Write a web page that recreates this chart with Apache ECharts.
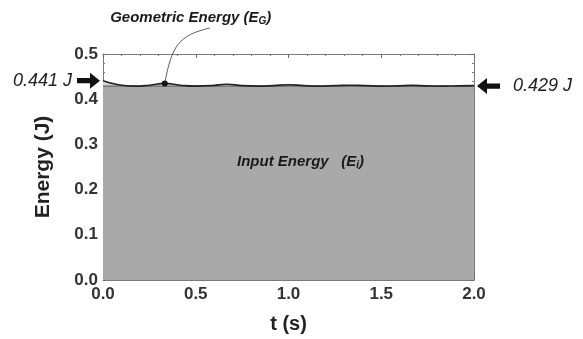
<!DOCTYPE html>
<html>
<head>
<meta charset="utf-8">
<script src="https://cdn.jsdelivr.net/npm/echarts@6/dist/echarts.min.js"></script>
<style>
  html, body { margin: 0; padding: 0; background: #fff; }
  #chart { width: 583px; height: 339px; }
</style>
</head>
<body>
<div id="chart"></div>
<script>
// time (s) and energies (J)
var timeS = [0, 0.083, 0.167, 0.25, 0.333, 0.417, 0.5, 0.583, 0.667, 0.75, 0.833, 0.917,
  1.0, 1.083, 1.167, 1.25, 1.333, 1.417, 1.5, 1.583, 1.667, 1.75, 1.833, 1.917, 2.0];
var geometricEnergy = [0.441, 0.432, 0.429, 0.431, 0.435, 0.431, 0.429, 0.430, 0.433, 0.430,
  0.429, 0.430, 0.432, 0.430, 0.429, 0.430, 0.431, 0.430, 0.429, 0.4295, 0.4305, 0.4295,
  0.429, 0.4295, 0.430];
var inputT = [0, 2];
var inputEnergy = [0.429, 0.429];
var markerT = 0.333;
var startLabel = "0.441 J";
var endLabel = "0.429 J";

var FONT = "Liberation Sans, Arial, sans-serif";
var geoData = timeS.map(function (t, i) { return [t, geometricEnergy[i]]; });
var inData = inputT.map(function (t, i) { return [t, inputEnergy[i]]; });

var chart = echarts.init(document.getElementById("chart"));

function tickAxis() {
  return {
    // onZero off, otherwise the top/right axes sit on the other axis' zero
    axisLine: { show: true, onZero: false, lineStyle: { color: "#7a7a7a", width: 1 } },
    axisTick: { show: true, inside: true, length: 4, lineStyle: { color: "#6a6a6a" } },
    minorTick: { show: true, splitNumber: 5, length: 2, lineStyle: { color: "#7a7a7a" } },
    splitLine: { show: false }
  };
}

var option = {
  animation: false,
  grid: { left: 103, right: 109, top: 54, bottom: 56 },
  xAxis: [
    Object.assign(tickAxis(), {
      type: "value", min: 0, max: 2, interval: 0.5, position: "bottom",
      name: "t (s)", nameLocation: "middle", nameGap: 34,
      nameTextStyle: { fontFamily: FONT, fontWeight: "bold", fontSize: 20, color: "#222" },
      axisLabel: { fontFamily: FONT, fontWeight: "bold", fontSize: 17, color: "#333", margin: 6,
        formatter: function (v) { return v.toFixed(1); } }
    }),
    Object.assign(tickAxis(), {
      type: "value", min: 0, max: 2, interval: 0.5, position: "top",
      axisLabel: { show: false }
    })
  ],
  yAxis: [
    Object.assign(tickAxis(), {
      type: "value", min: 0, max: 0.5, interval: 0.1, position: "left",
      name: "Energy (J)", nameLocation: "middle", nameGap: 49,
      nameTextStyle: { fontFamily: FONT, fontWeight: "bold", fontSize: 21, color: "#222" },
      axisLabel: { fontFamily: FONT, fontWeight: "bold", fontSize: 17, color: "#333", margin: 5,
        formatter: function (v) { return v.toFixed(1); } }
    }),
    Object.assign(tickAxis(), {
      type: "value", min: 0, max: 0.5, interval: 0.1, position: "right",
      axisLabel: { show: false }
    })
  ],
  series: [
    {
      name: "geo-area", type: "line", data: geoData, smooth: 0.5, symbol: "none",
      lineStyle: { width: 0 }, areaStyle: { color: "#d4d4d4", opacity: 1 }, z: 1
    },
    {
      name: "Input Energy", type: "line", data: inData, symbol: "none",
      lineStyle: { color: "#555", width: 1 }, areaStyle: { color: "#a9a9a9", opacity: 1 }, z: 2
    },
    {
      name: "Geometric Energy", type: "line", data: geoData, smooth: 0.5, symbol: "none",
      lineStyle: { color: "#222", width: 1.6 }, z: 3,
      markPoint: {
        symbol: "circle", symbolSize: 6, itemStyle: { color: "#111" }, label: { show: false },
        data: [{ coord: [markerT, geometricEnergy[timeS.indexOf(markerT)]] }]
      }
    }
  ]
};
chart.setOption(option);

function arrow(tipX, y, dir) {
  // dir = 1 arrow points right, -1 points left
  var headLen = 10, headHalf = 8, shaftHalf = 2.6, total = 23;
  var base = tipX - dir * headLen, tail = tipX - dir * total;
  return {
    type: "polygon", z: 100,
    shape: { points: [[tipX, y], [base, y - headHalf], [base, y - shaftHalf], [tail, y - shaftHalf],
      [tail, y + shaftHalf], [base, y + shaftHalf], [base, y + headHalf]] },
    style: { fill: "#111" }
  };
}

var p0 = chart.convertToPixel({ gridIndex: 0 }, [0, geometricEnergy[0]]);
var p1 = chart.convertToPixel({ gridIndex: 0 }, [2, inputEnergy[1]]);
var pm = chart.convertToPixel({ gridIndex: 0 }, [markerT, geometricEnergy[timeS.indexOf(markerT)]]);
var pc = chart.convertToPixel({ gridIndex: 0 }, [1, 0.3]);

var rich = function (size) {
  return {
    t: { font: "italic bold " + size + "px " + FONT, fill: "#1a1a1a" },
    s: { font: "italic bold " + Math.round(size * 0.65) + "px " + FONT, fill: "#1a1a1a", padding: [7, 0, 0, 0] }
  };
};

chart.setOption({
  graphic: [
    arrow(p0[0] - 3, p0[1], 1),
    { type: "text", z: 100, x: p0[0] - 31, y: p0[1], style: { text: startLabel, font: "italic 18px " + FONT,
      fill: "#222", align: "right", verticalAlign: "middle" } },
    arrow(p1[0] + 3, p1[1], -1),
    { type: "text", z: 100, x: p1[0] + 39, y: p1[1], style: { text: endLabel, font: "italic 18px " + FONT,
      fill: "#222", align: "left", verticalAlign: "middle" } },
    { type: "bezierCurve", z: 100, shape: { x1: pm[0], y1: pm[1], cpx1: pm[0] + 7, cpy1: pm[1] - 38,
      cpx2: pm[0] + 14, cpy2: pm[1] - 48, x2: pm[0] + 45, y2: 28 },
      style: { stroke: "#333", lineWidth: 0.8, fill: null } },
    { type: "text", z: 100, x: pm[0] + 26, y: 18, style: {
      text: "{t|Geometric Energy (E}{s|G}{t|)}", align: "center", verticalAlign: "middle",
      rich: rich(15) } },
    { type: "text", z: 100, x: pc[0] + 12, y: pc[1] + 17, style: {
      text: "{t|Input Energy   (E}{s|i}{t|)}", align: "center", verticalAlign: "middle",
      rich: rich(15) } }
  ]
});
</script>
</body>
</html>
